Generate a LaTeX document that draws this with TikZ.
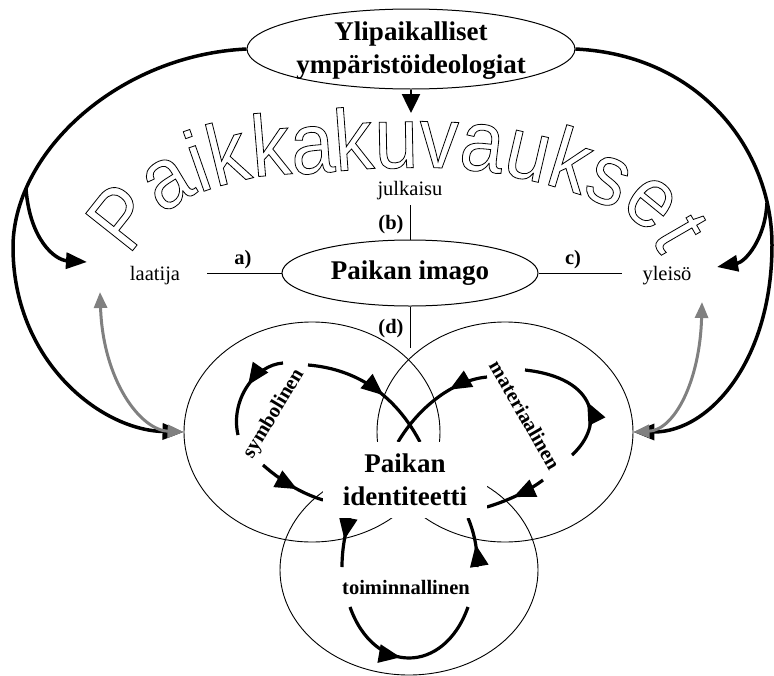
\documentclass[tikz,border=0pt]{standalone}
\usepackage{fontspec}
\setmainfont{Liberation Serif}
\newfontfamily\wordart[FakeStretch=0.9]{Liberation Sans}
\usetikzlibrary{arrows.meta,shapes.geometric,decorations.markings,decorations.text}
\newcommand\hollow[1]{\special{pdf:literal direct 1 Tr 0.8 w}#1\special{pdf:literal direct 0 Tr}}

\begin{document}
\begin{tikzpicture}[x=1pt, y=-1pt,
    otsikko/.style={font=\bfseries\fontsize{27}{33}\selectfont, align=center},
    merkki/.style={font=\bfseries\fontsize{20.5}{24}\selectfont},
    teksti/.style={font=\fontsize{20.5}{24}\selectfont},
    piiri/.style={ellipse, draw, line width=0.9pt},
    iso/.style={line width=3.5pt, -{Triangle[length=21pt,width=16pt]}},
    harmaa/.style={line width=3pt, draw=gray, {Triangle[length=16pt,width=13pt]}-{Triangle[length=16pt,width=13pt]}},
    kierto/.style={line width=3.2pt, postaction={decorate, decoration={markings,
        mark=at position #1 with {\arrow{Triangle[length=22pt,width=18pt]}}}}},
    kierto/.default=0.5]
    \useasboundingbox (0,0) rectangle (774,675);

    % ylipaikalliset ideologiat
    \node[ellipse, draw, line width=1pt, minimum width=328pt, minimum height=80pt] (ideo) at (411,49) {};
    \node[otsikko] (ideoteksti) at (411,51) {Ylipaikalliset\\ympäristöideologiat};
    \coordinate (karki) at (411,113);
    \draw[line width=2.5pt, -{Triangle[length=19pt,width=18pt]}] (ideo.south) -- (karki);

    % paikkakuvaukset
    \path[decorate, decoration={text effects along path, text={Paikkakuvaukset}, text align=center,
        text effects/.cd, characters={text along path, font=\wordart\fontsize{87}{87}\selectfont},
        character command=\hollow}]
        plot[smooth, tension=0.7] coordinates {(126,262) (172,208) (244,180) (317,173) (393,168)
        (470,170) (540,183) (600,203) (640,225) (664,262)};

    % imago
    \node[ellipse, draw, line width=1pt, minimum width=256pt, minimum height=66pt, otsikko] (imago) at (410,273) {Paikan imago};
    \node[teksti, inner sep=5pt] (julk) at (410,191) {julkaisu};
    \node[teksti] (laatija) at (155,276) {laatija};
    \node[teksti] (yleiso) at (667,276) {yleisö};
    \node[merkki] (b) at (391,225) {(b)};
    \node[merkki] (d) at (391,329) {(d)};
    \node[merkki] (a) at (243,260) {a)};
    \node[merkki] (c) at (573,260) {c)};
    \coordinate (apaa) at (207,273);
    \coordinate (cpaa) at (622,273);
    \coordinate (dpaa) at (410,348);
    \draw (julk) -- (imago);
    \draw (imago.west) -- (apaa);
    \draw (imago.east) -- (cpaa);
    \draw (imago.south) -- (dpaa);

    % identiteetin osat
    \node[piiri, minimum width=256pt, minimum height=220pt] (symb) at (312,432) {};
    \node[piiri, minimum width=256pt, minimum height=220pt] (mater) at (505,432) {};
    \node[piiri, minimum width=258pt, minimum height=210pt] (toim) at (409,570) {};

    % kierrot
    \draw[kierto=0.45] (283,363) .. controls (255,365) and (230,400) .. (238,435);
    \draw[kierto=0.6] (263,465) .. controls (280,480) and (300,493) .. (323,500);
    \draw[kierto=0.58] (308,365) .. controls (345,368) and (390,385) .. (420,442);
    \draw[kierto=0.35] (487,377) .. controls (455,380) and (420,405) .. (398,442);
    \draw[kierto=0.45] (572,455) .. controls (605,425) and (598,378) .. (525,370);
    \draw[kierto=0.55] (543,480) .. controls (530,490) and (510,500) .. (487,507);
    \draw[kierto=0.45] (350,518) .. controls (345,532) and (342,550) .. (342,567);
    \draw[kierto=0.45] (350,607) .. controls (374,675) and (444,675) .. (468,607);
    \draw[kierto=0.45] (477,567) .. controls (478,550) and (474,532) .. (468,518);

    \node[merkki, rotate=59] (symbteksti) at (274,414) {symbolinen};
    \node[merkki, rotate=-60] (materteksti) at (525,415) {materiaalinen};
    \node[merkki] (toimteksti) at (406,587) {toiminnallinen};
    \node[otsikko, fill=white, minimum width=164pt, minimum height=76pt] (ident) at (405,480) {Paikan\\identiteetti};

    % suuret nuolet
    \coordinate (vhaara) at (26,189);
    \coordinate (vkarki) at (87,262);
    \coordinate (ohaara) at (767,203);
    \coordinate (okarki) at (717,267);
    \draw[iso] (ideo.west) .. controls (120,55) and (15,150) .. (13,245)
        .. controls (12,360) and (100,430) .. (symb.west);
    \draw[iso] (vhaara) .. controls (30,240) and (55,260) .. (vkarki);
    \draw[iso] (ideo.east) .. controls (700,55) and (772,150) .. (772,245)
        .. controls (772,360) and (710,432) .. (mater.east);
    \draw[iso] (ohaara) .. controls (765,240) and (745,262) .. (okarki);

    % harmaat
    \coordinate (lalku) at (100,292);
    \coordinate (yalku) at (702,302);
    \draw[harmaa] (lalku) .. controls (103,380) and (140,430) .. (symb.west);
    \draw[harmaa] (yalku) .. controls (700,380) and (675,430) .. (mater.east);
\end{tikzpicture}
\end{document}
